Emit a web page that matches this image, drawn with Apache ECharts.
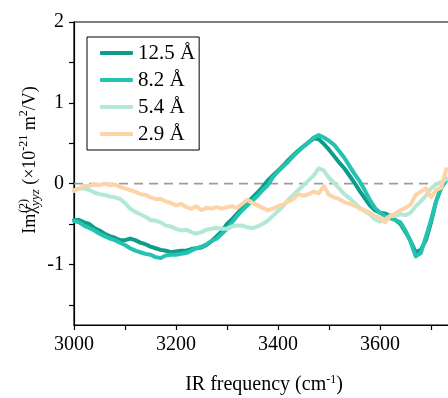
<!DOCTYPE html>
<html>
<head>
<meta charset="utf-8">
<script src="https://cdn.jsdelivr.net/npm/echarts@6/dist/echarts.min.js"></script>
<style>html,body{margin:0;padding:0;background:#fff}#c{width:448px;height:398px}</style>
</head>
<body>
<div id="c"></div>
<script>
// Frequencies (cm^-1), every 10 from 3000 to 3730
const freq = [];
for (let f = 3000; f <= 3730; f += 10) freq.push(f);

const seriesNames = ['12.5 Å', '8.2 Å', '5.4 Å', '2.9 Å'];

const d125 = [-0.45,-0.45,-0.48,-0.50,-0.55,-0.58,-0.62,-0.65,-0.67,-0.70,
  -0.70,-0.68,-0.70,-0.73,-0.75,-0.78,-0.80,-0.82,-0.83,-0.85,
  -0.84,-0.83,-0.83,-0.81,-0.80,-0.79,-0.76,-0.71,-0.65,-0.59,
  -0.50,-0.44,-0.37,-0.30,-0.24,-0.17,-0.11,-0.04,0.04,0.10,
  0.16,0.22,0.29,0.35,0.41,0.46,0.51,0.56,0.55,0.49,
  0.42,0.34,0.26,0.19,0.10,0.01,-0.09,-0.18,-0.27,-0.33,
  -0.36,-0.37,-0.40,-0.45,-0.50,-0.60,-0.71,-0.85,-0.82,-0.70,
  -0.48,-0.22,-0.05,0.05];

const d82 = [-0.46,-0.48,-0.52,-0.55,-0.58,-0.62,-0.65,-0.68,-0.70,-0.73,
  -0.76,-0.80,-0.83,-0.85,-0.87,-0.88,-0.91,-0.92,-0.89,-0.88,
  -0.88,-0.87,-0.86,-0.83,-0.80,-0.78,-0.75,-0.71,-0.68,-0.62,
  -0.56,-0.48,-0.40,-0.33,-0.27,-0.21,-0.15,-0.08,-0.02,0.08,
  0.15,0.21,0.27,0.34,0.40,0.46,0.51,0.57,0.60,0.57,
  0.53,0.48,0.40,0.32,0.22,0.12,0.03,-0.08,-0.20,-0.30,
  -0.36,-0.40,-0.43,-0.45,-0.48,-0.58,-0.72,-0.90,-0.86,-0.66,
  -0.45,-0.22,-0.05,0.04];

const d54 = [-0.08,-0.06,-0.06,-0.08,-0.11,-0.13,-0.14,-0.16,-0.17,-0.19,
  -0.24,-0.31,-0.35,-0.38,-0.41,-0.45,-0.46,-0.48,-0.52,-0.53,
  -0.56,-0.58,-0.57,-0.60,-0.62,-0.60,-0.57,-0.56,-0.55,-0.56,
  -0.56,-0.53,-0.52,-0.52,-0.54,-0.55,-0.53,-0.50,-0.46,-0.40,
  -0.34,-0.28,-0.20,-0.14,-0.08,-0.02,0.04,0.10,0.19,0.16,
  0.07,0.01,-0.06,-0.13,-0.18,-0.24,-0.30,-0.34,-0.38,-0.44,
  -0.47,-0.44,-0.40,-0.40,-0.38,-0.39,-0.36,-0.28,-0.22,-0.15,
  -0.06,-0.01,0.02,0.05];

const d29 = [-0.09,-0.06,-0.03,-0.03,-0.01,-0.02,0.00,-0.02,-0.01,-0.04,
  -0.06,-0.08,-0.10,-0.13,-0.14,-0.17,-0.19,-0.19,-0.22,-0.24,
  -0.27,-0.25,-0.29,-0.31,-0.28,-0.33,-0.30,-0.31,-0.29,-0.31,
  -0.29,-0.28,-0.30,-0.25,-0.20,-0.24,-0.27,-0.30,-0.33,-0.31,
  -0.28,-0.26,-0.22,-0.19,-0.13,-0.15,-0.13,-0.10,-0.12,-0.03,
  -0.14,-0.17,-0.19,-0.23,-0.25,-0.27,-0.31,-0.33,-0.36,-0.40,
  -0.42,-0.48,-0.40,-0.37,-0.33,-0.30,-0.26,-0.14,-0.10,-0.06,
  -0.17,-0.08,-0.05,0.18];

const yTickValues = [-1.5,-1,-0.5,0,0.5,1,1.5,2];
const yLabelValues = [-1,0,1,2];
const xLabelValues = [3000,3200,3400,3600,3800];
const xRange = [3000, 3800];
const yRange = [-1.75, 2];
const zeroLevel = 0;

const colors = ['#0f9b89', '#24c3b1', '#b3e8d7', '#fdd4a8'];
const allData = [d125, d82, d54, d29];

const FONT = 'Liberation Serif';

const series = [{
  name: 'zero',
  type: 'line',
  data: xRange.map(x => [x, zeroLevel]),
  showSymbol: false,
  silent: true,
  z: 1,
  lineStyle: { type: [9, 6], color: '#9c9c9c', width: 1.6 },
  itemStyle: { color: '#9c9c9c' }
}].concat(allData.map((arr, i) => ({
  name: seriesNames[i],
  type: 'line',
  data: freq.map((f, j) => [f, arr[j]]),
  showSymbol: false,
  smooth: false,
  lineStyle: { width: 4, color: colors[i], cap: 'round', join: 'round' },
  itemStyle: { color: colors[i] },
  z: 3
})));

const chart = echarts.init(document.getElementById('c'), null, { renderer: 'canvas' });
chart.setOption({
  animation: false,
  backgroundColor: '#fff',
  grid: { left: 74, top: 22, width: 408, height: 303, show: true, borderColor: '#000', borderWidth: 1.2,
          backgroundColor: 'transparent', containLabel: false, outerBoundsMode: 'none' },
  legend: {
    orient: 'vertical',
    left: 87, top: 37,
    padding: [5, 4, 5, 13],
    borderColor: '#000', borderWidth: 1,
    icon: 'roundRect',
    itemWidth: 33, itemHeight: 4,
    itemGap: 5,
    itemTextGap: 14,
    textStyle: { fontFamily: FONT, fontSize: 21, color: '#000', lineHeight: 22 },
    data: seriesNames
  },
  xAxis: {
    type: 'value', min: xRange[0], max: xRange[1], interval: 100,
    axisLine: { show: true, onZero: false, lineStyle: { color: '#000', width: 1.2 } },
    axisTick: { show: true, length: 5, lineStyle: { color: '#000', width: 1.2 } },
    axisLabel: { customValues: xLabelValues, formatter: v => String(v), fontFamily: FONT, fontSize: 20, color: '#000', margin: 10 },
    splitLine: { show: false }
  },
  yAxis: {
    type: 'value', min: yRange[0], max: yRange[1],
    axisLine: { show: true, onZero: false, lineStyle: { color: '#000', width: 1.2 } },
    axisTick: { show: true, length: 5, customValues: yTickValues, lineStyle: { color: '#000', width: 1.2 } },
    axisLabel: { customValues: yLabelValues, formatter: v => String(v), fontFamily: FONT, fontSize: 20, color: '#000', margin: 10 },
    splitLine: { show: false }
  },
  graphic: [
    {
      type: 'text', x: 264, y: 385,
      style: {
        text: '{m|IR frequency (cm}{s|-1}{m|)}',
        align: 'center', verticalAlign: 'middle',
        rich: {
          m: { fontFamily: FONT, fontSize: 20, lineHeight: 22, fill: '#000' },
          s: { fontFamily: FONT, fontSize: 12, lineHeight: 22, verticalAlign: 'top', fill: '#000' }
        }
      }
    },
    {
      type: 'text', x: 30, y: 160, rotation: Math.PI / 2,
      style: {
        text: '{m|Imχ}{sup|(2)}{sub|yyz}{m| (×10}{s|-21}{m| m}{s|2}{m|/V)}',
        align: 'center', verticalAlign: 'middle',
        rich: {
          m: { fontFamily: FONT, fontSize: 18, lineHeight: 25, fill: '#000' },
          sup: { fontFamily: FONT, fontSize: 12, lineHeight: 12, width: 0, align: 'left', verticalAlign: 'top', fill: '#000' },
          sub: { fontFamily: FONT, fontSize: 13, fontStyle: 'italic', lineHeight: 12, verticalAlign: 'bottom', fill: '#000' },
          s: { fontFamily: FONT, fontSize: 12, lineHeight: 12, verticalAlign: 'top', fill: '#000' }
        }
      }
    }
  ],
  series: series
});
</script>
</body>
</html>
